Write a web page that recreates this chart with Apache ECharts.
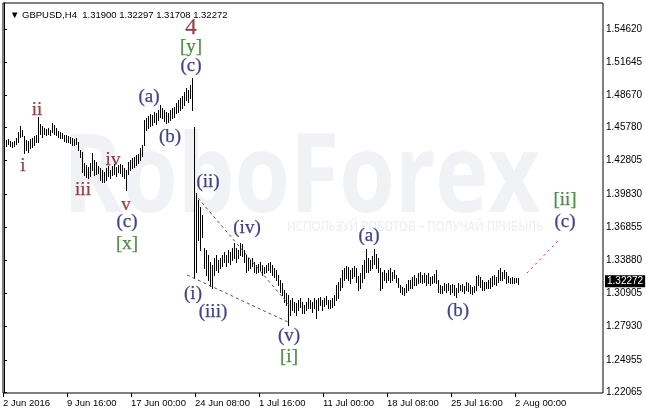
<!DOCTYPE html>
<html><head><meta charset="utf-8">
<script src="https://cdn.jsdelivr.net/npm/echarts@6/dist/echarts.min.js"></script>
<style>html,body{margin:0;padding:0;background:#fff}#c{width:646px;height:414px}</style>
</head><body><div id="c"></div><script>
// H4 bars (high / low), one per 4-hour period starting 2 Jun 2016
const highs=[
1.4476,1.4467,1.4476,1.4458,1.4449,1.4458,1.4485,1.4538,1.4592,1.4556,
1.4502,1.4467,1.4458,1.4476,1.4485,1.4502,1.4511,1.4673,1.4610,1.4592,
1.4574,1.4565,1.4574,1.4556,1.4619,1.4601,1.4574,1.4547,1.4538,1.4529,
1.4511,1.4511,1.4502,1.4494,1.4485,1.4476,1.4485,1.4449,1.4377,1.4359,
1.4260,1.4242,1.4224,1.4260,1.4350,1.4287,1.4269,1.4233,1.4215,1.4198,
1.4180,1.4215,1.4233,1.4198,1.4233,1.4251,1.4224,1.4242,1.4251,1.4242,
1.4215,1.4198,1.4269,1.4287,1.4305,1.4314,1.4332,1.4341,1.4395,1.4422,
1.4646,1.4664,1.4682,1.4700,1.4691,1.4718,1.4709,1.4736,1.4780,1.4754,
1.4736,1.4718,1.4709,1.4736,1.4754,1.4763,1.4798,1.4825,1.4843,1.4861,
1.4897,1.4933,1.4915,1.4960,1.5023,1.4583,1.3991,1.3928,1.3866,1.3794,
1.3498,1.3480,1.3435,1.3372,1.3345,1.3408,1.3435,1.3390,1.3408,1.3435,
1.3462,1.3435,1.3480,1.3462,1.3498,1.3543,1.3498,1.3480,1.3543,1.3534,
1.3480,1.3435,1.3408,1.3390,1.3408,1.3372,1.3345,1.3354,1.3372,1.3345,
1.3328,1.3345,1.3363,1.3372,1.3345,1.3319,1.3301,1.3256,1.3211,1.3184,
1.3121,1.3094,1.3076,1.3032,1.3050,1.3014,1.3005,1.3032,1.3050,1.3014,
1.2987,1.3014,1.3050,1.3032,1.3014,1.3050,1.3032,1.3050,1.3059,1.3032,
1.3050,1.3067,1.3032,1.3032,1.3050,1.3076,1.3166,1.3193,1.3229,1.3301,
1.3319,1.3337,1.3328,1.3301,1.3319,1.3337,1.3319,1.3247,1.3274,1.3345,
1.3390,1.3489,1.3408,1.3390,1.3426,1.3489,1.3444,1.3408,1.3319,1.3283,
1.3301,1.3274,1.3301,1.3319,1.3283,1.3301,1.3256,1.3229,1.3166,1.3148,
1.3139,1.3175,1.3211,1.3211,1.3238,1.3256,1.3229,1.3274,1.3283,1.3256,
1.3274,1.3256,1.3274,1.3238,1.3247,1.3265,1.3301,1.3211,1.3166,1.3157,
1.3184,1.3175,1.3184,1.3166,1.3175,1.3166,1.3139,1.3184,1.3166,1.3175,
1.3157,1.3193,1.3184,1.3166,1.3148,1.3157,1.3247,1.3256,1.3238,1.3211,
1.3193,1.3193,1.3211,1.3229,1.3247,1.3256,1.3238,1.3301,1.3319,1.3283,
1.3301,1.3283,1.3247,1.3229,1.3238,1.3229,1.3229,1.32297];
const lows=[
1.4422,1.4413,1.4431,1.4413,1.4404,1.4413,1.4431,1.4449,1.4494,1.4502,
1.4350,1.4377,1.4359,1.4395,1.4404,1.4422,1.4449,1.4449,1.4520,1.4494,
1.4520,1.4511,1.4520,1.4511,1.4538,1.4520,1.4511,1.4494,1.4485,1.4485,
1.4458,1.4449,1.4449,1.4440,1.4422,1.4422,1.4431,1.4377,1.4314,1.4180,
1.4153,1.4135,1.4126,1.4144,1.4198,1.4153,1.4162,1.4171,1.4108,1.4090,
1.4090,1.4108,1.4144,1.4126,1.4153,1.4162,1.4144,1.4180,1.4171,1.4144,
1.4126,1.4018,1.4162,1.4198,1.4215,1.4224,1.4242,1.4260,1.4287,1.4323,
1.4422,1.4556,1.4574,1.4592,1.4601,1.4628,1.4610,1.4646,1.4673,1.4664,
1.4637,1.4619,1.4628,1.4646,1.4664,1.4673,1.4709,1.4718,1.4736,1.4754,
1.4780,1.4825,1.4807,1.4843,1.4736,1.3229,1.3283,1.3570,1.3480,1.3597,
1.3319,1.3256,1.3211,1.3157,1.3139,1.3256,1.3301,1.3283,1.3319,1.3337,
1.3372,1.3337,1.3372,1.3354,1.3390,1.3408,1.3372,1.3408,1.3435,1.3426,
1.3372,1.3283,1.3301,1.3319,1.3337,1.3283,1.3274,1.3283,1.3301,1.3256,
1.3274,1.3283,1.3301,1.3283,1.3256,1.3238,1.3211,1.3166,1.3103,1.3076,
1.3014,1.2987,1.2807,1.2897,1.2942,1.2924,1.2897,1.2942,1.2969,1.2915,
1.2915,1.2942,1.2960,1.2960,1.2924,1.2960,1.2870,1.2942,1.2987,1.2942,
1.2978,1.2996,1.2960,1.2960,1.2969,1.2987,1.3032,1.3050,1.3121,1.3148,
1.3211,1.3229,1.3211,1.3184,1.3229,1.3247,1.3193,1.3121,1.3139,1.3193,
1.3229,1.3283,1.3283,1.3301,1.3319,1.3354,1.3319,1.3283,1.3121,1.3139,
1.3211,1.3193,1.3211,1.3193,1.3211,1.3229,1.3193,1.3148,1.3103,1.3085,
1.3076,1.3103,1.3121,1.3139,1.3139,1.3166,1.3166,1.3184,1.3193,1.3184,
1.3193,1.3166,1.3184,1.3166,1.3184,1.3193,1.3184,1.3103,1.3094,1.3094,
1.3121,1.3103,1.3121,1.3085,1.3103,1.3076,1.3058,1.3103,1.3121,1.3112,
1.3094,1.3121,1.3112,1.3094,1.3085,1.3103,1.3121,1.3166,1.3148,1.3121,
1.3121,1.3139,1.3139,1.3139,1.3157,1.3175,1.3166,1.3193,1.3211,1.3211,
1.3229,1.3184,1.3193,1.3184,1.3184,1.3184,1.3193,1.31708];
const lastBar={open:1.31900,high:1.32297,low:1.31708,close:1.32272};
const symbolName='GBPUSD,H4';
// time axis tick labels: bar index -> label
const timeTickIdx=[0,32,64,96,128,160,192,224,256];
const timeTickLabels=['2 Jun 2016','9 Jun 16:00','17 Jun 00:00','24 Jun 08:00','1 Jul 16:00','11 Jul 00:00','18 Jul 08:00','25 Jul 16:00','2 Aug 00:00'];
// price axis tick labels
const priceTicks=[1.22065,1.24955,1.27930,1.30905,1.33880,1.36855,1.39830,1.42805,1.45780,1.48670,1.51645,1.54620];
const priceMin=1.21975, priceMax=1.56952, slots=300;
// wave labels: [bar index, price, text]
const romanLabels=[[93.5,1.5471,'4'],[16.5,1.4736,'ii'],[9.5,1.4234,'i'],[39.5,1.4018,'iii'],[54.5,1.4287,'iv'],[61,1.3883,'v']];
const parenLabels=[[93.5,1.5130,'(c)'],[61.5,1.3731,'(c)'],[72.5,1.4852,'(a)'],[83,1.4494,'(b)'],[102,1.4090,'(ii)'],[121.5,1.3677,'(iv)'],[94.5,1.3085,'(i)'],[104.5,1.2924,'(iii)'],[142.5,1.2709,'(v)'],[182.5,1.3606,'(a)'],[227,1.2933,'(b)'],[280.5,1.3731,'(c)']];
const bracketLabels=[[93.5,1.5301,'[y]'],[61.5,1.3534,'[x]'],[142.5,1.2520,'[i]'],[280.5,1.3928,'[ii]']];
// dashed channel / projection lines: [[i1,p1],[i2,p2]]
const channelLines=[[[97,1.3946],[143,1.2978]],[[91.5,1.3256],[142,1.2834]]];
const projectionLine=[[261.5,1.3274],[277,1.3561]];

const barData=highs.map((h,i)=>[i,h,lows[i]]);
const serif='"Liberation Serif","Times New Roman",serif';
const sans='"Liberation Sans",Tahoma,sans-serif';
function labelSeries(arr,color,size){
  return {type:'scatter',data:arr.map(d=>({value:[d[0],d[1]],name:d[2],
      label:{fontSize:(d[2]==='4'?23:size)}})),
    symbolSize:1,itemStyle:{color:'rgba(0,0,0,0)'},silent:true,z:5,
    label:{show:true,position:'inside',formatter:p=>p.name,color:color,fontFamily:serif,fontSize:size,
      textBorderColor:color,textBorderWidth:0.25}};
}
const chart=echarts.init(document.getElementById('c'),null,{renderer:'canvas'});
chart.setOption({
  animation:false,
  backgroundColor:'#fff',
  title:{text:'▼ '+symbolName+'  '+[lastBar.open,lastBar.high,lastBar.low,lastBar.close].map(v=>v.toFixed(5)).join(' '),
    left:5,top:5,textStyle:{fontSize:9.5,fontWeight:'normal',fontFamily:sans,color:'#000'}},
  graphic:[
    {type:'text',x:63,y:126,scaleX:0.815,z:-10,silent:true,style:{text:'RoboForex',fontSize:110,fontFamily:'"Open Sans","Noto Sans",sans-serif',fontWeight:'bold',fill:'#f0f2f6',verticalAlign:'top'}},
    {type:'text',x:287,y:220,scaleX:0.86,z:-10,silent:true,style:{text:'ИСПОЛЬЗУЙ РОБОТОВ – ПОЛУЧАЙ ПРИБЫЛЬ',fontSize:13.5,fontFamily:'"Noto Sans",sans-serif',fill:'#eaedf2',verticalAlign:'top'}}
  ],
  grid:{left:3,right:43,top:3,bottom:21,show:true,borderColor:'#000',borderWidth:1,backgroundColor:'transparent'},
  xAxis:{type:'value',min:-0.5,max:slots-0.5,
    axisLine:{show:false},splitLine:{show:false},
    axisTick:{show:true,customValues:timeTickIdx.map(i=>i-0.5),length:4,lineStyle:{color:'#000'}},
    axisLabel:{show:true,customValues:timeTickIdx.map(i=>i-0.5),align:'left',margin:5,
      formatter:v=>{const k=timeTickIdx.indexOf(Math.round(v+0.5));return k>=0?timeTickLabels[k]:'';},
      fontSize:9.5,fontFamily:sans,color:'#000'}},
  yAxis:{type:'value',position:'right',min:priceMin,max:priceMax,
    axisLine:{show:true,lineStyle:{color:'#000'}},splitLine:{show:false},
    axisTick:{show:true,customValues:priceTicks,length:3,lineStyle:{color:'#000'}},
    axisLabel:{show:true,customValues:priceTicks,formatter:v=>v.toFixed(5),margin:3,fontSize:10,fontFamily:sans,color:'#000'}},
  series:[
    {type:'custom',data:barData,z:2,silent:true,
      renderItem:(params,api)=>{
        const t=api.coord([api.value(0),api.value(1)]);
        const b=api.coord([api.value(0),api.value(2)]);
        const x=Math.floor(t[0])+0.5;
        return {type:'line',shape:{x1:x,y1:Math.round(t[1]),x2:x,y2:Math.round(b[1])+1},style:{stroke:'#000',lineWidth:1}};
      }},
    Object.assign(labelSeries(romanLabels,'#7d1414',19),{
      markLine:{silent:true,symbol:'none',animation:false,
        data:[
          [{coord:channelLines[0][0],lineStyle:{color:'#555',type:[3,3],width:1}},{coord:channelLines[0][1]}],
          [{coord:channelLines[1][0],lineStyle:{color:'#555',type:[3,3],width:1}},{coord:channelLines[1][1]}],
          [{coord:projectionLine[0],lineStyle:{color:'#dc143c',type:[2,4],width:1}},{coord:projectionLine[1]}]
        ],label:{show:false}}}),
    labelSeries(parenLabels,'#14146e',19),
    labelSeries(bracketLabels,'#23761c',19),
    {type:'scatter',data:[],silent:true,
      markLine:{silent:true,symbol:'none',animation:false,
        data:[{yAxis:lastBar.close}],lineStyle:{color:'rgba(0,0,0,0)',width:0},
        label:{show:true,position:'end',distance:2,formatter:()=>lastBar.close.toFixed(5),
          backgroundColor:'#000',color:'#fff',padding:[1,2,1,2],fontSize:10,fontFamily:sans}}}
  ]
});
</script></body></html>
